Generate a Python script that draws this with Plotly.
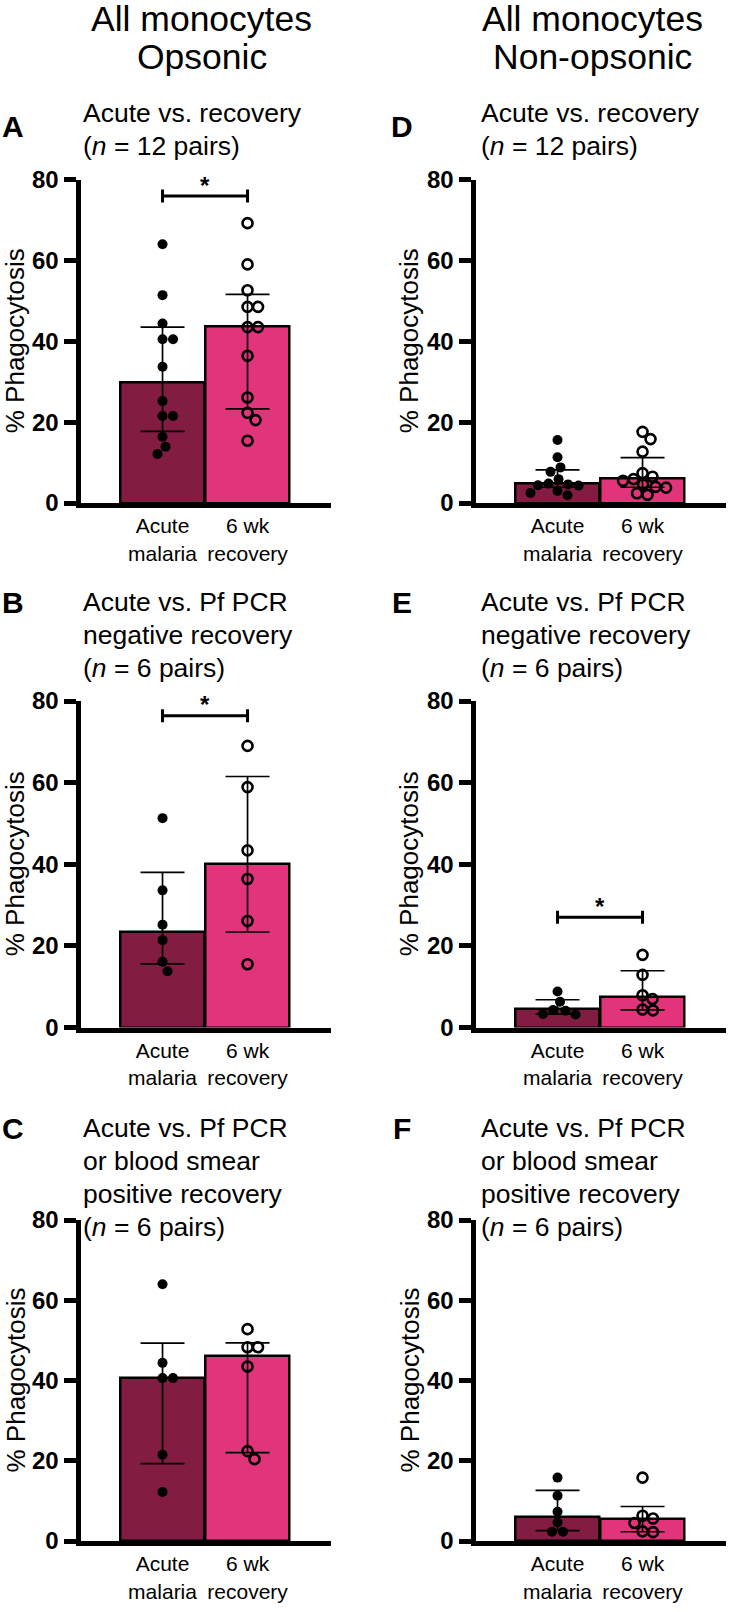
import plotly.graph_objects as go

# ---------------- data ----------------
categories = ["Acute<br>malaria", "6 wk<br>recovery"]
y_ticks = [0, 20, 40, 60, 80]

A_acute = [64.0, 51.4, 44.4, 40.5, 40.5, 33.7, 25.2, 21.5, 21.5, 16.4, 13.9, 12.1]
A_recov = [69.2, 59.0, 52.6, 48.5, 48.5, 43.5, 43.5, 36.4, 26.1, 22.3, 20.5, 15.4]
A_bar = [29.7, 43.7]
A_hi = [43.5, 51.6]
A_lo = [17.7, 23.3]

D_acute = [15.6, 11.3, 8.8, 7.7, 5.9, 4.8, 4.6, 4.4, 4.3, 3.0, 2.5, 1.9]
D_recov = [17.6, 15.8, 12.7, 7.4, 6.5, 5.9, 5.5, 4.6, 4.0, 3.8, 2.4, 2.0]
D_bar = [4.7, 6.1]
D_hi = [8.2, 11.2]
D_lo = [3.9, 3.9]

B_acute = [51.3, 33.6, 25.2, 21.4, 16.1, 13.8]
B_recov = [69.0, 58.9, 43.4, 36.4, 26.1, 15.5]
B_bar = [23.4, 40.0]
B_hi = [38.0, 61.5]
B_lo = [15.6, 23.4]

E_acute = [8.8, 6.3, 4.3, 4.1, 3.3, 3.2]
E_recov = [17.8, 12.9, 7.9, 7.0, 4.4, 4.2]
E_bar = [4.5, 7.4]
E_hi = [6.8, 13.9]
E_lo = [3.3, 4.3]

C_acute = [64.0, 44.4, 40.6, 40.6, 21.5, 12.2]
C_recov = [52.8, 48.3, 48.3, 43.5, 22.4, 20.4]
C_bar = [40.6, 46.0]
C_hi = [49.3, 49.4]
C_lo = [19.3, 22.0]

F_acute = [15.8, 11.3, 7.3, 4.6, 2.3, 2.3]
F_recov = [15.8, 6.3, 5.6, 4.5, 2.4, 2.2]
F_bar = [6.1, 5.4]
F_hi = [12.6, 8.6]
F_lo = [2.6, 2.3]

sig_A = 75.9
sig_B = 76.4
sig_E = 27.0

col_headers = [["All monocytes", "Opsonic"], ["All monocytes", "Non-opsonic"]]
titles = {
    "A": ["Acute vs. recovery", "(<i>n</i> = 12 pairs)"],
    "D": ["Acute vs. recovery", "(<i>n</i> = 12 pairs)"],
    "B": ["Acute vs. Pf PCR", "negative recovery", "(<i>n</i> = 6 pairs)"],
    "E": ["Acute vs. Pf PCR", "negative recovery", "(<i>n</i> = 6 pairs)"],
    "C": ["Acute vs. Pf PCR", "or blood smear", "positive recovery", "(<i>n</i> = 6 pairs)"],
    "F": ["Acute vs. Pf PCR", "or blood smear", "positive recovery", "(<i>n</i> = 6 pairs)"],
}
y_title = "% Phagocytosis"

# ---------------- styling / layout ----------------
W, H = 729, 1612
FONT = "Liberation Sans, Arial, Helvetica, sans-serif"
C_ACUTE = "#821C42"
C_RECOV = "#E2347B"
XR = [-0.965, 1.976]
PX_PER_CAT = 85.0

# rows: (pixel y of value 80, pixel y of value 0)
rows = [(179.5, 503.0), (701.0, 1027.5), (1220.0, 1541.0)]
# cols: (pixel x of plot-area left edge, pixel x of axis end)
cols = [(80.5, 330.5), (475.5, 725.5)]

panels = [
    ("A", 0, 0, A_acute, A_recov, A_bar, A_hi, A_lo, sig_A),
    ("B", 1, 0, B_acute, B_recov, B_bar, B_hi, B_lo, sig_B),
    ("C", 2, 0, C_acute, C_recov, C_bar, C_hi, C_lo, None),
    ("D", 0, 1, D_acute, D_recov, D_bar, D_hi, D_lo, None),
    ("E", 1, 1, E_acute, E_recov, E_bar, E_hi, E_lo, sig_E),
    ("F", 2, 1, F_acute, F_recov, F_bar, F_hi, F_lo, None),
]


def px_x(p):
    return p / W


def px_y(p):
    return 1 - p / H


def swarm(vals, ppu_y, d_px=10.5):
    placed = []
    offs = [0.0] * len(vals)
    order = sorted(range(len(vals)), key=lambda i: -vals[i])
    for i in order:
        y = vals[i] * ppu_y
        best = None
        k = 0
        while best is None:
            cands = [0.0] if k == 0 else [k * 0.5, -k * 0.5]
            for x in cands:
                if all((x - a) ** 2 + (y - b) ** 2 >= d_px ** 2 for a, b in placed):
                    best = x
                    break
            k += 1
        placed.append((best, y))
        offs[i] = best / PX_PER_CAT
    return offs


fig = go.Figure()
annotations = []
shapes = []
layout_axes = {}

for idx, (letter, r, c, acute, recov, bar, hi, lo, sig) in enumerate(panels):
    n = idx + 1
    xa = "x" if n == 1 else f"x{n}"
    ya = "y" if n == 1 else f"y{n}"
    y80, y0 = rows[r]
    xl, xr = cols[c]
    ppu_y = (y0 - y80) / 80.0

    fig.add_trace(go.Bar(
        x=[0, 1], y=bar, width=0.985, xaxis=xa, yaxis=ya,
        marker=dict(color=[C_ACUTE, C_RECOV], line=dict(color="black", width=2.5)),
        error_y=dict(type="data", symmetric=False,
                     array=[h - b for h, b in zip(hi, bar)],
                     arrayminus=[b - l for b, l in zip(bar, lo)],
                     color="black", thickness=1.7, width=22),
        hoverinfo="skip",
    ))
    off_a = swarm(acute, ppu_y)
    off_r = swarm(recov, ppu_y)
    fig.add_trace(go.Scatter(
        x=[0 + o for o in off_a], y=acute, mode="markers", xaxis=xa, yaxis=ya,
        marker=dict(symbol="circle", size=10, color="black"), hoverinfo="skip",
    ))
    fig.add_trace(go.Scatter(
        x=[1 + o for o in off_r], y=recov, mode="markers", xaxis=xa, yaxis=ya,
        marker=dict(symbol="circle-open", size=10, color="black", line=dict(width=2.6)),
        hoverinfo="skip",
    ))

    key_x = "xaxis" if n == 1 else f"xaxis{n}"
    key_y = "yaxis" if n == 1 else f"yaxis{n}"
    layout_axes[key_x] = dict(
        domain=[px_x(xl), px_x(xr)], range=XR, anchor=ya, automargin=False,
        showline=True, linewidth=5, linecolor="black", ticks="",
        tickvals=[0, 1], ticktext=categories, showgrid=False, zeroline=False,
        tickfont=dict(family=FONT, size=21, color="black"),
    )
    layout_axes[key_y] = dict(
        domain=[px_y(y0), px_y(y80)], range=[0, 80], anchor=xa, automargin=False,
        showline=True, linewidth=5, linecolor="black", ticks="outside",
        ticklen=12, tickwidth=5, tickcolor="black", tickvals=y_ticks,
        showgrid=False, zeroline=False,
        tickfont=dict(family=FONT, size=24, color="black", weight="bold"),
    )

    # significance bracket
    if sig is not None:
        cap = 6.5 / ppu_y
        shapes.append(dict(type="line", xref=xa, yref=ya, x0=0, x1=1, y0=sig, y1=sig,
                           line=dict(color="black", width=3)))
        for xx in (0, 1):
            shapes.append(dict(type="line", xref=xa, yref=ya, x0=xx, x1=xx,
                               y0=sig - cap, y1=sig + cap,
                               line=dict(color="black", width=3)))
        annotations.append(dict(x=0.5, y=sig, xref=xa, yref=ya, text="*", showarrow=False,
                                yanchor="middle", yshift=11,
                                font=dict(family=FONT, size=24, color="black", weight="bold")))

    # panel letter
    letter_x = 13 if c == 0 else 402
    title_top = [126, 602, 1128][r]
    annotations.append(dict(x=px_x(letter_x), y=px_y(title_top), xref="paper", yref="paper",
                            text=letter, showarrow=False, xanchor="center", yanchor="middle",
                            font=dict(family=FONT, size=30, color="black", weight="bold")))
    # panel title lines
    tx = 81 if c == 0 else 479
    line_y0 = [113, 602, 1128][r]
    for k, line in enumerate(titles[letter]):
        annotations.append(dict(x=px_x(tx), y=px_y(line_y0 + k * 33), xref="paper", yref="paper",
                                text=line, showarrow=False, xanchor="left", yanchor="middle",
                                font=dict(family=FONT, size=26.5, color="black")))
    # y-axis title
    yt_x = 15 if c == 0 else 409
    annotations.append(dict(x=px_x(yt_x), y=px_y((y80 + y0) / 2), xref="paper", yref="paper",
                            text=y_title, textangle=-90, showarrow=False,
                            xanchor="center", yanchor="middle",
                            font=dict(family=FONT, size=26, color="black")))

# column headers
for c, (hx, hdr) in enumerate(zip([202, 592], col_headers)):
    for k, line in enumerate(hdr):
        annotations.append(dict(x=px_x(hx), y=px_y(19 + k * 38), xref="paper", yref="paper",
                                text=line, showarrow=False, xanchor="center", yanchor="middle",
                                font=dict(family=FONT, size=35.5, color="black")))

fig.update_layout(
    width=W, height=H, margin=dict(l=0, r=0, t=0, b=0, pad=0, autoexpand=False),
    paper_bgcolor="white", plot_bgcolor="white", showlegend=False,
    annotations=annotations, shapes=shapes, bargap=0, **layout_axes,
)

fig.write_html("out.html", config={"displayModeBar": False},
               post_script="document.body.style.margin='0';")
